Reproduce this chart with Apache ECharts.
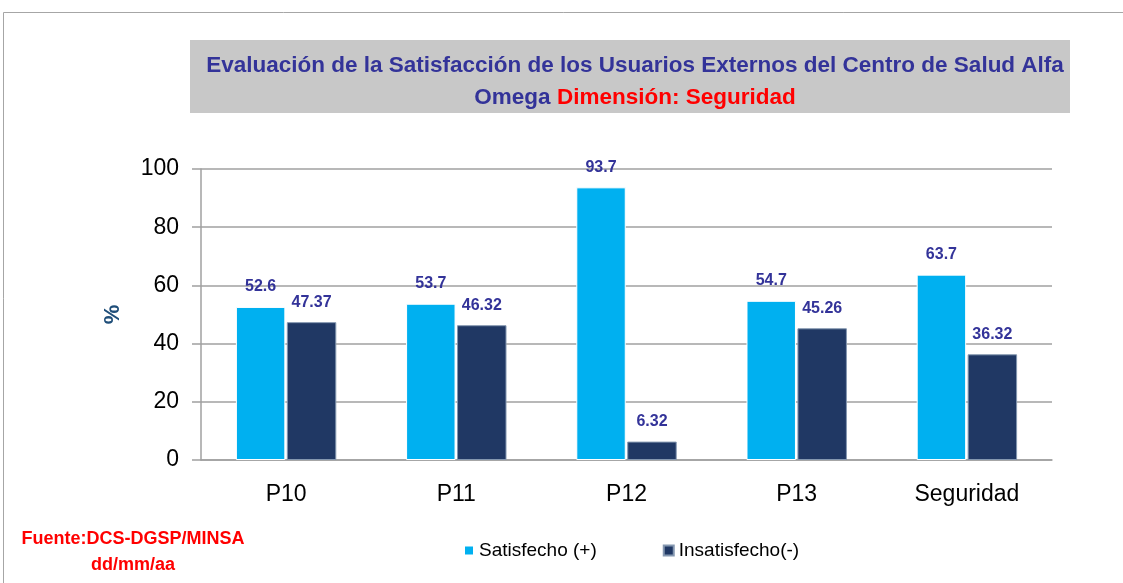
<!DOCTYPE html>
<html>
<head>
<meta charset="utf-8">
<script src="https://cdn.jsdelivr.net/npm/echarts@6/dist/echarts.min.js"></script>
<style>
  html, body { margin: 0; padding: 0; background: #fff; }
  #chart1 { width: 1123px; height: 583px; }
</style>
</head>
<body>
<div id="chart1"></div>
<script>
var categories = ["P10", "P11", "P12", "P13", "Seguridad"];
var satisfecho = [52.6, 53.7, 93.7, 54.7, 63.7];
var insatisfecho = [47.37, 46.32, 6.32, 45.26, 36.32];
var seriesNames = ["Satisfecho (+)", "Insatisfecho(-)"];

var chartDom = document.getElementById("chart1");
var myChart = echarts.init(chartDom);
var baseFont = "'Liberation Sans', Arial, sans-serif";

var labelStyle = {
  show: true,
  position: "top",
  distance: 12,
  color: "#333399",
  fontWeight: "bold",
  fontSize: 16,
  fontFamily: baseFont,
};

var option = {
  animation: false,
  title: {
    text: "{a|Evaluación de la Satisfacción de los Usuarios Externos del Centro de Salud Alfa}\n{a|Omega }{b|Dimensión: Seguridad}",
    left: 630,
    top: 45,
    textAlign: "center",
    textStyle: {
      rich: {
        a: { color: "#333399", fontSize: 22.5, fontWeight: "bold", fontFamily: baseFont, lineHeight: 32 },
        b: { color: "#ff0000", fontSize: 22.5, fontWeight: "bold", fontFamily: baseFont, lineHeight: 32 },
      },
    },
  },
  graphic: [
    {
      type: "rect",
      z: -10,
      shape: { x: 3.5, y: 12.5, width: 1130, height: 600 },
      style: { fill: "#fff", stroke: "#a6a6a6", lineWidth: 1 },
    },
    {
      type: "rect",
      z: -5,
      shape: { x: 190, y: 40, width: 880, height: 73 },
      style: { fill: "#c8c8c8" },
    },
    {
      type: "text",
      x: 133,
      y: 526,
      style: {
        text: "Fuente:DCS-DGSP/MINSA\ndd/mm/aa",
        align: "center",
        fill: "#ff0000",
        font: "bold 18px " + baseFont,
        lineHeight: 26,
      },
    },
  ],
  legend: {
    left: 458,
    top: 536,
    icon: "rect",
    itemWidth: 10,
    itemHeight: 10,
    itemGap: 66,
    textStyle: { fontSize: 19, color: "#000", fontFamily: baseFont },
    data: seriesNames,
  },
  grid: { left: 201, right: 71, top: 169, bottom: 123 },
  xAxis: {
    type: "category",
    data: categories,
    axisLine: { lineStyle: { color: "#a0a0a0", width: 1.5 } },
    axisTick: { show: false },
    axisLabel: { margin: 23, fontSize: 23, color: "#000", fontFamily: baseFont },
  },
  yAxis: {
    type: "value",
    min: 0,
    max: 100,
    interval: 20,
    name: "%",
    nameLocation: "middle",
    nameGap: 77,
    nameTextStyle: { color: "#1f4e79", fontSize: 22, fontWeight: "bold", fontFamily: baseFont },
    axisLine: { show: true, lineStyle: { color: "#a0a0a0", width: 1.5 } },
    axisTick: { show: true, length: 9, lineStyle: { color: "#a0a0a0", width: 1.5 } },
    axisLabel: { margin: 22, fontSize: 23, color: "#000", fontFamily: baseFont },
    splitLine: { lineStyle: { color: "#a0a0a0", width: 1.5 } },
  },
  series: [
    {
      name: seriesNames[0],
      type: "bar",
      data: satisfecho,
      barGap: "3%",
      barCategoryGap: "41%",
      itemStyle: { color: "#00b0f0", borderColor: "#ffffff", borderWidth: 1 },
      label: labelStyle,
    },
    {
      name: seriesNames[1],
      type: "bar",
      data: insatisfecho,
      itemStyle: { color: "#203864", borderColor: "#8497b0", borderWidth: 1 },
      label: labelStyle,
    },
  ],
};
option && myChart.setOption(option);
</script>
</body>
</html>
